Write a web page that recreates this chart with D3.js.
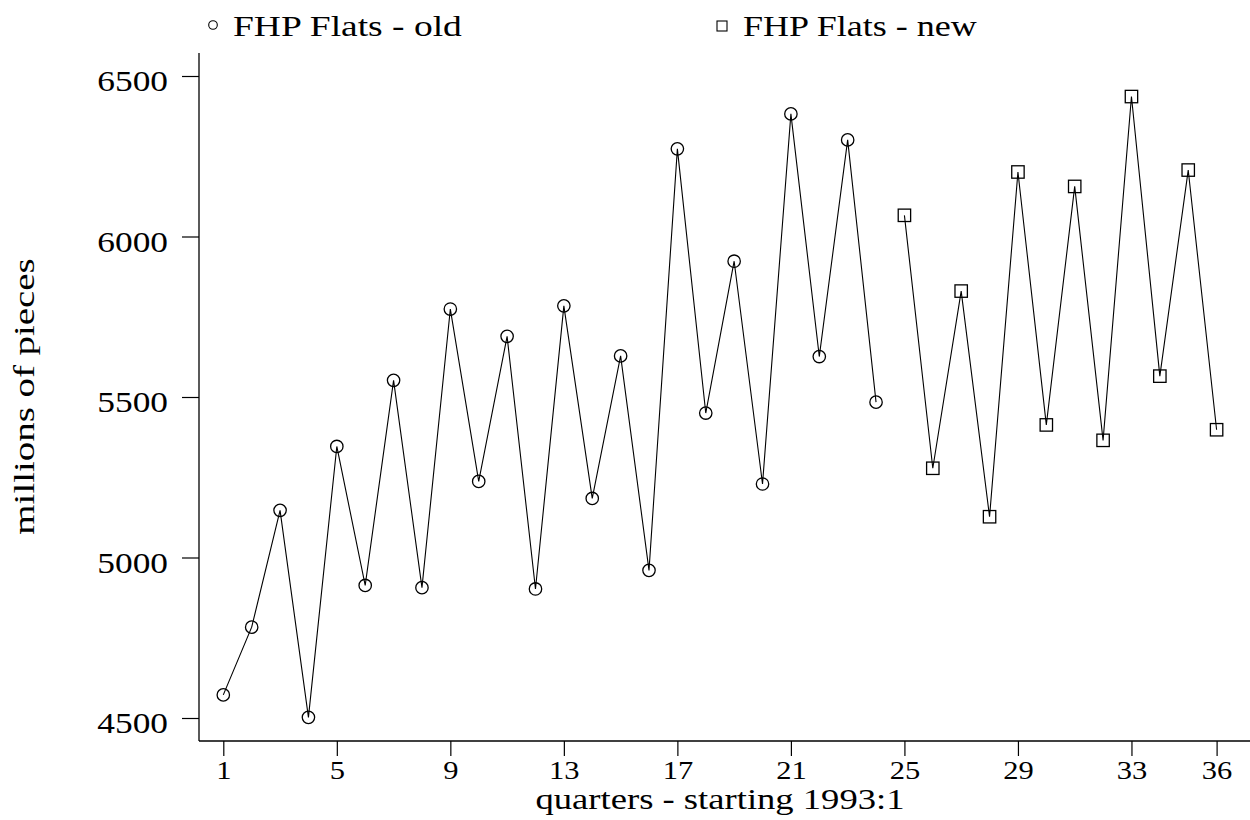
<!DOCTYPE html>
<html><head><meta charset="utf-8">
<script src="https://cdn.jsdelivr.net/npm/d3@7"></script>
<style>
body{margin:0;background:#fff}
text{font-family:"Liberation Serif","Times New Roman",serif;fill:#000}
</style>
</head><body>
<svg id="c" width="1250" height="820"></svg>
<script>
// ---- data ----
const oldQuarters = [1,2,3,4,5,6,7,8,9,10,11,12,13,14,15,16,17,18,19,20,21,22,23,24];
const oldValues = [4572,4783,5147,4502,5346,4913,5552,4906,5774,5237,5689,4902,5784,5184,5628,4960,6273,5450,5923,5229,6382,5626,6301,5484];
const newQuarters = [25,26,27,28,29,30,31,32,33,34,35,36];
const newValues = [6066,5278,5830,5127,6201,5413,6156,5365,6436,5565,6207,5398];
const xTickValues = [1,5,9,13,17,21,25,29,33,36];
const yTickValues = [4500,5000,5500,6000,6500];
const legendLabels = ["FHP Flats - old","FHP Flats - new"];
const xTitle = "quarters - starting 1993:1";
const yTitle = "millions of pieces";

function stretch(k){
  return function(sel){
    sel.each(function(){
      const len = this.getComputedTextLength();
      this.setAttribute("textLength", len*k);
      this.setAttribute("lengthAdjust","spacingAndGlyphs");
    });
  };
}

const svg = d3.select("#c");
const x = d3.scaleLinear().domain([1,36]).range([223.3,1216.6]);
const y = d3.scaleLinear().domain([4500,6500]).range([718,76]);
const axisY0 = 741, axisX0 = 199;

// axes
const gx = svg.append("g").attr("transform",`translate(0,${axisY0})`)
  .call(d3.axisBottom(x).tickValues(xTickValues).tickSize(15).tickFormat(d3.format("d")));
gx.attr("font-family",null);
gx.select(".domain").remove();
gx.selectAll(".tick line").attr("stroke","#000").attr("stroke-width",1.2);
gx.selectAll(".tick text").attr("y",38).attr("dy",0).attr("font-size",25)
  .call(stretch(1.22));

const gy = svg.append("g").attr("transform",`translate(${axisX0},0)`)
  .call(d3.axisLeft(y).tickValues(yTickValues).tickSize(17).tickFormat(d3.format("d")));
gy.attr("font-family",null);
gy.select(".domain").remove();
gy.selectAll(".tick line").attr("stroke","#000").attr("stroke-width",1.2);
gy.selectAll(".tick text").attr("x",-31).attr("y",14.5).attr("dy",0).attr("font-size",29)
  .call(stretch(1.22));

svg.append("line").attr("x1",axisX0).attr("x2",1250).attr("y1",axisY0).attr("y2",axisY0)
  .attr("stroke","#000").attr("stroke-width",1.3);
svg.append("line").attr("x1",axisX0).attr("x2",axisX0).attr("y1",53).attr("y2",axisY0)
  .attr("stroke","#000").attr("stroke-width",1.3);

// series
const oldData = oldQuarters.map((q,i)=>({q,v:oldValues[i]}));
const newData = newQuarters.map((q,i)=>({q,v:newValues[i]}));
const line = d3.line().x(d=>x(d.q)).y(d=>y(d.v));
[oldData,newData].forEach(data=>{
  svg.append("path").datum(data).attr("d",line)
    .attr("fill","none").attr("stroke","#000").attr("stroke-width",1.1);
});
svg.append("g").selectAll("circle").data(oldData).join("circle")
  .attr("cx",d=>x(d.q)).attr("cy",d=>y(d.v)).attr("r",6.2)
  .attr("fill","none").attr("stroke","#000").attr("stroke-width",1.3);
const s = 12.4;
svg.append("g").selectAll("rect").data(newData).join("rect")
  .attr("x",d=>x(d.q)-s/2).attr("y",d=>y(d.v)-s/2).attr("width",s).attr("height",s)
  .attr("fill","none").attr("stroke","#000").attr("stroke-width",1.3);

// legend
svg.append("circle").attr("cx",213).attr("cy",25).attr("r",4.3)
  .attr("fill","none").attr("stroke","#000").attr("stroke-width",1.1);
svg.append("text").attr("x",233).attr("y",36).attr("font-size",30).text(legendLabels[0]).call(stretch(1.25));
svg.append("rect").attr("x",717).attr("y",21).attr("width",10).attr("height",10)
  .attr("fill","none").attr("stroke","#000").attr("stroke-width",1.1);
svg.append("text").attr("x",743).attr("y",36).attr("font-size",30).text(legendLabels[1]).call(stretch(1.2));

// titles
svg.append("text").attr("x",720).attr("y",809).attr("text-anchor","middle")
  .attr("font-size",30).text(xTitle).call(stretch(1.22));
svg.append("text").attr("transform","translate(33.5,396.5) rotate(-90)")
  .attr("text-anchor","middle").attr("font-size",29).text(yTitle).call(stretch(1.34));
</script>
</body></html>
